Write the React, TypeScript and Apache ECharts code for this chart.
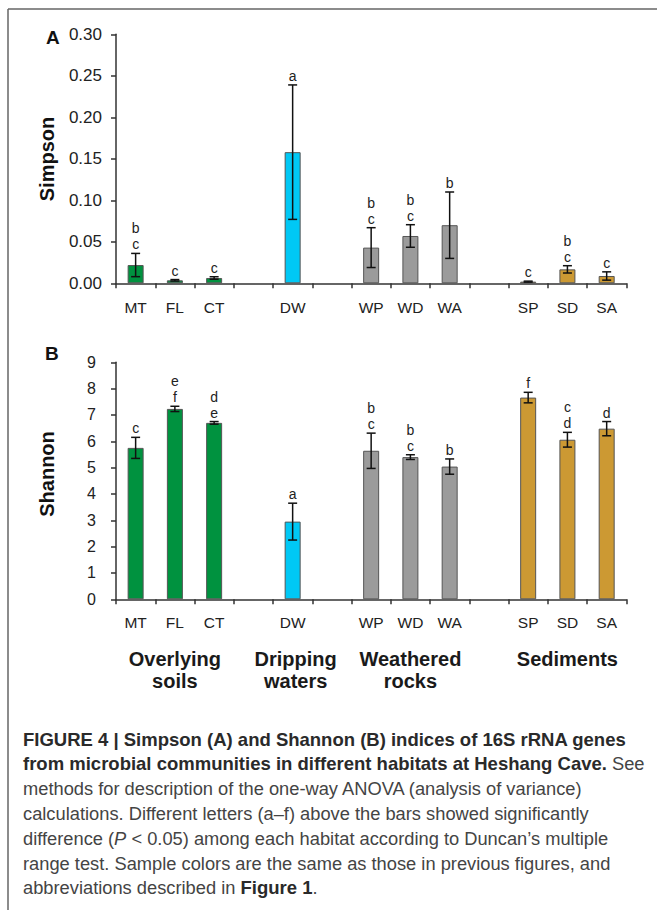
import React, { useEffect, useRef } from 'react';
import * as echarts from 'echarts';

const categories = ['MT', 'FL', 'CT', ' ', 'DW', '  ', 'WP', 'WD', 'WA', '   ', 'SP', 'SD', 'SA'];
const barColors = ['#00923F', '#00923F', '#00923F', null, '#00C8F5', null, '#9B9B9B', '#9B9B9B', '#9B9B9B', null, '#CC9933', '#CC9933', '#CC9933'];

const simpsonMean = [0.022, 0.0036, 0.0064, null, 0.158, null, 0.043, 0.057, 0.070, null, 0.002, 0.0168, 0.0088];
const simpsonErr = [0.014, 0.0009, 0.0015, null, 0.081, null, 0.024, 0.0136, 0.040, null, 0.0006, 0.0044, 0.005];
const simpsonLetters = ['b\nc', 'c', 'c', '', 'a', '', 'b\nc', 'b\nc', 'b', '', 'c', 'b\nc', 'c'];

const shannonMean = [5.75, 7.23, 6.70, null, 2.95, null, 5.64, 5.40, 5.04, null, 7.66, 6.06, 6.48];
const shannonErr = [0.40, 0.10, 0.05, null, 0.70, null, 0.67, 0.09, 0.29, null, 0.20, 0.28, 0.27];
const shannonLetters = ['c', 'e\nf', 'd\ne', '', 'a', '', 'b\nc', 'b\nc', 'b', '', 'f', 'c\nd', 'd'];

const groupLabels = ['Overlying\nsoils', 'Dripping\nwaters', 'Weathered\nrocks', 'Sediments'];
const groupCenterIndex = [1, 4, 7, 11];

const captionLines = [
  '{b|FIGURE 4 | Simpson (A) and Shannon (B) indices of 16S rRNA genes}',
  '{b|from microbial communities in different habitats at Heshang Cave.} See',
  'methods for description of the one-way ANOVA (analysis of variance)',
  'calculations. Different letters (a\u2013f) above the bars showed significantly',
  'difference ({i|P} < 0.05) among each habitat according to Duncan\u2019s multiple',
  'range test. Sample colors are the same as those in previous figures, and',
  'abbreviations described in {b|Figure 1}.',
];

const FONT = '"Liberation Sans", Arial, Helvetica, sans-serif';
const GRID_LEFT = 116;
const GRID_RIGHT_X = 626.3;
const GRID_W = GRID_RIGHT_X - GRID_LEFT;

function errorSeries(mean: (number | null)[], err: (number | null)[], letters: string[], axisIndex: number) {
  const data = mean
    .map((m, i) => (m == null ? null : [i, m, err[i] as number]))
    .filter((d) => d != null);
  return {
    type: 'custom',
    xAxisIndex: axisIndex,
    yAxisIndex: axisIndex,
    data,
    z: 10,
    silent: true,
    renderItem: (params: any, api: any) => {
      const i = api.value(0);
      const m = api.value(1);
      const e = api.value(2);
      const top = api.coord([i, m + e]);
      const bot = api.coord([i, Math.max(m - e, 0)]);
      const x = top[0];
      const hw = 4.5;
      const st = { stroke: '#111', lineWidth: 1.5 };
      return {
        type: 'group',
        children: [
          { type: 'line', shape: { x1: x, y1: top[1], x2: x, y2: bot[1] }, style: st },
          { type: 'line', shape: { x1: x - hw, y1: top[1], x2: x + hw, y2: top[1] }, style: st },
          { type: 'line', shape: { x1: x - hw, y1: bot[1], x2: x + hw, y2: bot[1] }, style: st },
          {
            type: 'text',
            style: {
              text: letters[i],
              x,
              y: top[1] - 1,
              align: 'center',
              verticalAlign: 'bottom',
              fontSize: 14,
              fontFamily: FONT,
              lineHeight: 16,
              fill: '#222',
            },
          },
        ],
      };
    },
  };
}

function barSeries(mean: (number | null)[], axisIndex: number) {
  return {
    type: 'bar',
    xAxisIndex: axisIndex,
    yAxisIndex: axisIndex,
    barWidth: 16,
    data: mean.map((m, i) => ({
      value: m,
      itemStyle: { color: barColors[i] || '#999', borderColor: '#555', borderWidth: 1 },
    })),
  };
}

function xAxisCfg(gridIndex: number, margin: number) {
  return {
    type: 'category',
    gridIndex,
    data: categories,
    boundaryGap: true,
    axisLine: { lineStyle: { color: '#333', width: 1.5 } },
    axisTick: { show: true, interval: 0, length: 5, lineStyle: { color: '#333', width: 1.5 } },
    axisLabel: { interval: 0, margin, fontSize: 15.5, fontFamily: FONT, color: '#222' },
    splitLine: { show: false },
  };
}

function yAxisCfg(gridIndex: number, max: number, interval: number, margin: number, fontSize: number, fmt: (v: number) => string) {
  return {
    type: 'value',
    gridIndex,
    min: 0,
    max,
    interval,
    axisLine: { show: true, lineStyle: { color: '#333', width: 1.5 } },
    axisTick: { show: true, length: 5, lineStyle: { color: '#333', width: 1.5 } },
    axisLabel: { margin, fontSize, fontFamily: FONT, color: '#222', formatter: fmt },
    splitLine: { show: false },
  };
}

export default function App() {
  const ref = useRef<HTMLDivElement>(null);
  useEffect(() => {
    if (!ref.current) return;
    const chart = echarts.init(ref.current, undefined, { renderer: 'svg' });
    const catW = GRID_W / categories.length;
    const graphic: any[] = [
      { type: 'line', shape: { x1: 8, y1: 9, x2: 657, y2: 9 }, style: { stroke: '#666', lineWidth: 1.5 } },
      { type: 'line', shape: { x1: 8, y1: 9, x2: 8, y2: 910 }, style: { stroke: '#666', lineWidth: 1.5 } },
      { type: 'text', x: 46, y: 37, style: { text: 'A', fontSize: 19, fontWeight: 'bold', fontFamily: FONT, fill: '#111', verticalAlign: 'middle' } },
      { type: 'text', x: 45, y: 353, style: { text: 'B', fontSize: 19, fontWeight: 'bold', fontFamily: FONT, fill: '#111', verticalAlign: 'middle' } },
      { type: 'text', x: 47, y: 159, rotation: Math.PI / 2, style: { text: 'Simpson', fontSize: 20, fontWeight: 'bold', fontFamily: FONT, fill: '#111', align: 'center', verticalAlign: 'middle' } },
      { type: 'text', x: 47, y: 474, rotation: Math.PI / 2, style: { text: 'Shannon', fontSize: 20, fontWeight: 'bold', fontFamily: FONT, fill: '#111', align: 'center', verticalAlign: 'middle' } },
    ];
    groupLabels.forEach((t, k) => {
      graphic.push({
        type: 'text',
        x: GRID_LEFT + (groupCenterIndex[k] + 0.5) * catW + (k === 1 ? 3 : 0),
        y: 648,
        style: { text: t, fontSize: 20, fontWeight: 'bold', fontFamily: FONT, fill: '#1a1a1a', align: 'center', verticalAlign: 'top', lineHeight: 22 },
      });
    });
    const capRich = {
      b: { fontSize: 18.5, fontWeight: 'bold', fontFamily: FONT, fill: '#2a2a2a' },
      i: { fontSize: 18.3, fontStyle: 'italic', fontFamily: FONT, fill: '#444' },
    };
    captionLines.forEach((t, k) => {
      graphic.push({
        type: 'text',
        x: 23,
        y: 739 + k * 24.8,
        style: { text: t, rich: capRich, fontSize: 18.3, fontFamily: FONT, fill: '#444', verticalAlign: 'middle' },
      });
    });

    chart.setOption({
      animation: false,
      backgroundColor: '#fff',
      grid: [
        { left: GRID_LEFT, top: 34.3, width: GRID_W, height: 249, containLabel: false, outerBoundsMode: 'none' },
        { left: GRID_LEFT, top: 362.3, width: GRID_W, height: 237, containLabel: false, outerBoundsMode: 'none' },
      ],
      xAxis: [xAxisCfg(0, 16), xAxisCfg(1, 15)],
      yAxis: [
        yAxisCfg(0, 0.3, 0.05, 14, 17, (v: number) => v.toFixed(2)),
        yAxisCfg(1, 9, 1, 20, 16, (v: number) => String(v)),
      ],
      series: [
        barSeries(simpsonMean, 0),
        errorSeries(simpsonMean, simpsonErr, simpsonLetters, 0),
        barSeries(shannonMean, 1),
        errorSeries(shannonMean, shannonErr, shannonLetters, 1),
      ],
      graphic,
    });
    return () => chart.dispose();
  }, []);
  return <div ref={ref} style={{ position: 'absolute', left: 0, top: 0, width: 657, height: 910 }} />;
}
